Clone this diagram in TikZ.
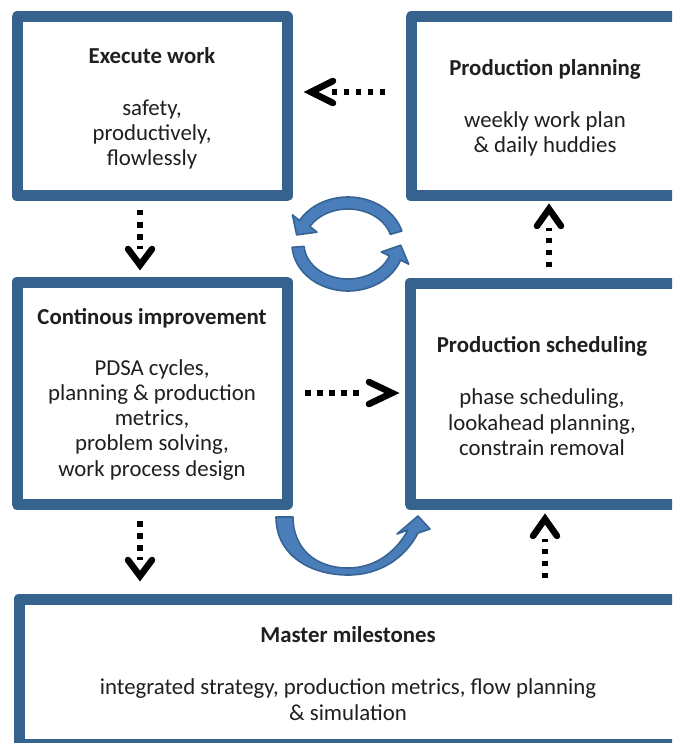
\documentclass[tikz,border=0pt]{standalone}
\usepackage{fontspec}
\setmainfont{Carlito}
\definecolor{boxblue}{HTML}{36628E}
\definecolor{arrfill}{HTML}{4A7EBB}
\definecolor{arrline}{HTML}{386494}
\definecolor{txt}{HTML}{1F1F1F}
\newcommand\ringarrow[6]{%
 \pgfmathsetmacro\raCa{cos(#6)}%
 \pgfmathsetmacro\raSa{sin(#6)}%
 \pgfmathsetmacro\raPx{#1+#3*(\raCa)}%
 \pgfmathsetmacro\raPy{#2+#4*(\raSa)}%
 \pgfmathsetmacro\raSg{(#6>#5)?1:-1}%
 \pgfmathsetmacro\raDx{-1*(\raSg)*#3*(\raSa)}%
 \pgfmathsetmacro\raDy{(\raSg)*#4*(\raCa)}%
 \pgfmathsetmacro\raDn{sqrt((\raDx)*(\raDx)+(\raDy)*(\raDy))}%
 \pgfmathsetmacro\raUx{(\raDx)/(\raDn)}%
 \pgfmathsetmacro\raUy{(\raDy)/(\raDn)}%
 \pgfmathsetmacro\raNx{#4*(\raCa)}%
 \pgfmathsetmacro\raNy{#3*(\raSa)}%
 \pgfmathsetmacro\raNn{sqrt((\raNx)*(\raNx)+(\raNy)*(\raNy))}%
 \pgfmathsetmacro\raNx{(\raNx)/(\raNn)}%
 \pgfmathsetmacro\raNy{(\raNy)/(\raNn)}%
 \filldraw[blockarrow] plot[domain=0:1,samples=40] ({#1+(#3+6)*cos(#5+(#6-#5)*\x)},{#2+(#4+6)*sin(#5+(#6-#5)*\x)})
   -- ({\raPx+15*(\raNx)},{\raPy+15*(\raNy)})
   -- ({\raPx+14*(\raUx)},{\raPy+14*(\raUy)})
   -- ({\raPx-15*(\raNx)},{\raPy-15*(\raNy)})
   -- plot[domain=0:1,samples=40] ({#1+(#3-6)*cos(#6+(#5-#6)*\x)},{#2+(#4-6)*sin(#6+(#5-#6)*\x)})
   -- cycle;
}
\begin{document}
\begin{tikzpicture}[x=1pt,y=-1pt,
  box/.style={draw=boxblue, line width=11pt, line join=round, fill=white, inner sep=0pt},
  lbl/.style={text=txt, align=center, font=\fontsize{22.8}{25.2}\selectfont, inner sep=0pt},
  dots/.style={draw=black, line width=5.5pt, dash pattern=on 5.5pt off 6.5pt},
  chev/.style={draw=black, line width=6.5pt, line cap=round, line join=miter},
  blockarrow/.style={fill=arrfill, draw=arrline, line width=1.6pt, line join=round}]
\useasboundingbox (0,0) rectangle (672,743);
\clip (0,0) rectangle (672,743);
\fill[white] (0,0) rectangle (672,743);

% boxes
\node[box, minimum width=270pt, minimum height=179pt] (b1) at (152,106.5) {};
\node[box, minimum width=268pt, minimum height=179pt] (b2) at (545,106.5) {};
\node[box, minimum width=270pt, minimum height=222pt] (b3) at (152,393) {};
\node[box, minimum width=270pt, minimum height=221pt] (b4) at (545,393.5) {};
\node[box, minimum width=659pt, minimum height=145pt] (b5) at (348.5,671.5) {};

% texts
\node[lbl] (t1) at (152,108.5) {\textbf{Execute work}\\[27pt]safety,\\productively,\\flowlessly};
\node[lbl] (t2) at (545,108) {\textbf{Production planning}\\[27pt]weekly work plan\\\& daily huddies};
\node[lbl] (t3) at (152,394) {\textbf{Continous improvement}\\[26pt]PDSA cycles,\\planning \& production\\metrics,\\problem solving,\\work process design};
\node[lbl] (t4) at (542,396) {\textbf{Production scheduling}\\[27pt]phase scheduling,\\lookahead planning,\\constrain removal};
\node[lbl] (t5) at (348,673.5) {\textbf{Master milestones}\\[27pt]integrated strategy, production metrics, flow planning\\\& simulation};

% dotted arrows: named end points
\coordinate (a1s) at (385,92);  \coordinate (a1e) at (330,92);
\coordinate (a1u) at (333,81);  \coordinate (a1t) at (311,92);  \coordinate (a1d) at (333,103);
\coordinate (a2s) at (140,210); \coordinate (a2e) at (140,249);
\coordinate (a2u) at (128,249); \coordinate (a2t) at (140,265); \coordinate (a2d) at (152,249);
\coordinate (a3s) at (549,267); \coordinate (a3e) at (549,228);
\coordinate (a3u) at (537,226); \coordinate (a3t) at (549,209); \coordinate (a3d) at (561,226);
\coordinate (a4s) at (305,393); \coordinate (a4e) at (360,393);
\coordinate (a4u) at (369,382); \coordinate (a4t) at (392,393); \coordinate (a4d) at (369,404);
\coordinate (a5s) at (140,521); \coordinate (a5e) at (140,560);
\coordinate (a5u) at (128,560); \coordinate (a5t) at (140,576); \coordinate (a5d) at (152,560);
\coordinate (a6s) at (545,578); \coordinate (a6e) at (545,539);
\coordinate (a6u) at (533,536); \coordinate (a6t) at (545,519); \coordinate (a6d) at (557,536);

\draw[dots] (a1s) -- (a1e); \draw[chev] (a1u) -- (a1t) -- (a1d);
\draw[dots] (a2s) -- (a2e); \draw[chev] (a2u) -- (a2t) -- (a2d);
\draw[dots] (a3s) -- (a3e); \draw[chev] (a3u) -- (a3t) -- (a3d);
\draw[dots] (a4s) -- (a4e); \draw[chev] (a4u) -- (a4t) -- (a4d);
\draw[dots] (a5s) -- (a5e); \draw[chev] (a5u) -- (a5t) -- (a5d);
\draw[dots] (a6s) -- (a6e); \draw[chev] (a6u) -- (a6t) -- (a6d);

% circular block arrows
\ringarrow{348}{244}{50}{41}{-16}{-150}
\ringarrow{348}{244}{50}{41}{176}{20}

% U-shaped block arrow
\filldraw[blockarrow] (276,517) .. controls (276,555) and (310,575) .. (348,575)
  .. controls (380,575) and (405,558) .. (418,533)
  -- (430,529) -- (418,516) -- (397,534) -- (408,530)
  .. controls (396,552) and (375,568) .. (348,568)
  .. controls (315,568) and (293,548) .. (293,517) -- cycle;
\end{tikzpicture}
\end{document}
